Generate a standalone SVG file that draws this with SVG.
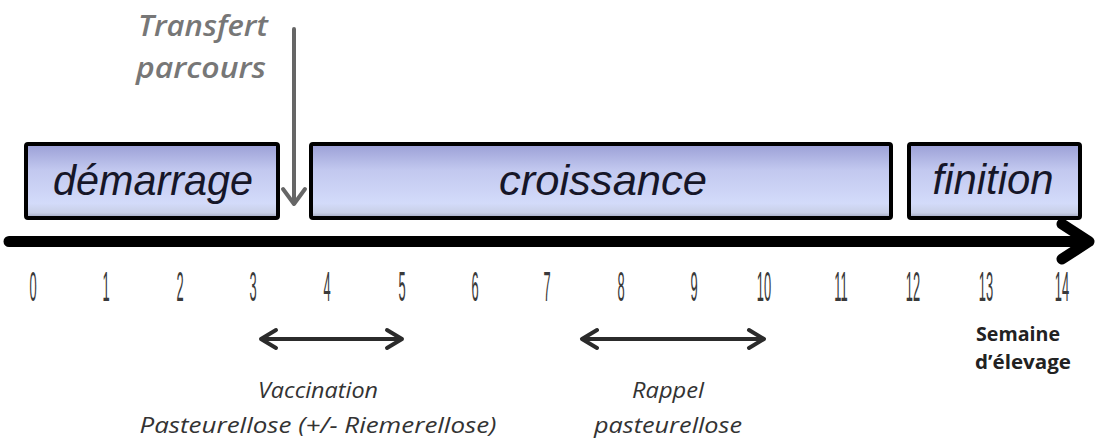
<svg xmlns="http://www.w3.org/2000/svg" width="1095" height="446" viewBox="0 0 1095 446">
<defs>
<linearGradient id="boxfill" x1="0" y1="0" x2="0" y2="1">
<stop offset="0" stop-color="#9b9fd6"/>
<stop offset="0.35" stop-color="#c2c8ef"/>
<stop offset="0.8" stop-color="#d3dbfa"/>
<stop offset="0.93" stop-color="#c8cfe6"/>
<stop offset="1" stop-color="#9aa0b8"/>
</linearGradient>
<style>
.box{fill:url(#boxfill);stroke:#000;stroke-width:4}
.phase{font-family:"Liberation Sans",Arial,sans-serif;font-style:italic;font-size:42px;fill:#161628;text-anchor:middle}
.num{font-family:"Liberation Sans",Arial,sans-serif;font-size:43px;fill:#3a3a3a;text-anchor:middle}
.lab{font-family:"Open Sans",sans-serif;font-style:italic;font-size:21px;fill:#333;text-anchor:middle}
.tr{font-family:"Open Sans",sans-serif;font-style:italic;font-weight:600;font-size:28px;fill:#777;text-anchor:end}
.sem{font-family:"Open Sans",sans-serif;font-weight:bold;font-size:19px;fill:#222;text-anchor:start}
.axis{fill:none;stroke:#000;stroke-width:11;stroke-linecap:round;stroke-linejoin:round}
.dbl{fill:none;stroke:#2b2b2b;stroke-width:4;stroke-linecap:round;stroke-linejoin:round}
.tarrow{fill:none;stroke:#666;stroke-width:4;stroke-linecap:round;stroke-linejoin:round}
</style>
</defs>
<rect width="1095" height="446" fill="#fff"/>

<g id="demarrage">
<rect class="box" x="26" y="144" width="252" height="74" rx="2"/>
<text class="phase" x="153" y="195" textLength="200" lengthAdjust="spacingAndGlyphs">démarrage</text>
</g>
<g id="croissance">
<rect class="box" x="311" y="144" width="580" height="74" rx="2"/>
<text class="phase" x="603" y="195" textLength="208" lengthAdjust="spacingAndGlyphs">croissance</text>
</g>
<g id="finition">
<rect class="box" x="909" y="144" width="171" height="74" rx="2"/>
<text class="phase" x="993" y="194" textLength="121" lengthAdjust="spacingAndGlyphs">finition</text>
</g>

<g id="transfert">
<text class="tr" x="268" y="36" textLength="130" lengthAdjust="spacingAndGlyphs">Transfert</text>
<text class="tr" x="266" y="78" textLength="130" lengthAdjust="spacingAndGlyphs">parcours</text>
</g>

<g id="connectors">
<path class="tarrow" d="M294,29 V203 M283,189 L294,204 L305,189"/>
<path class="axis" d="M9,241.5 H1088 M1062,224 L1089,241.5 L1062,259"/>
<path class="dbl" d="M261,339 H402 M276,330 L261,339 L276,348 M387,330 L402,339 L387,348"/>
<path class="dbl" d="M582,339 H764 M597,330 L582,339 L597,348 M749,330 L764,339 L749,348"/>
</g>

<g id="ticks">
<text class="num" transform="translate(33,301) scale(0.3,1)">0</text>
<text class="num" transform="translate(106,301) scale(0.3,1)">1</text>
<text class="num" transform="translate(180,301) scale(0.3,1)">2</text>
<text class="num" transform="translate(253,301) scale(0.3,1)">3</text>
<text class="num" transform="translate(327,301) scale(0.3,1)">4</text>
<text class="num" transform="translate(402,301) scale(0.3,1)">5</text>
<text class="num" transform="translate(475,301) scale(0.3,1)">6</text>
<text class="num" transform="translate(547,301) scale(0.3,1)">7</text>
<text class="num" transform="translate(621,301) scale(0.3,1)">8</text>
<text class="num" transform="translate(694,301) scale(0.3,1)">9</text>
<text class="num" transform="translate(764,301) scale(0.3,1)">10</text>
<text class="num" transform="translate(841,301) scale(0.3,1)">11</text>
<text class="num" transform="translate(913,301) scale(0.3,1)">12</text>
<text class="num" transform="translate(986,301) scale(0.3,1)">13</text>
<text class="num" transform="translate(1062,301) scale(0.3,1)">14</text>
</g>

<g id="unit">
<text class="sem" x="976" y="341" textLength="84" lengthAdjust="spacingAndGlyphs">Semaine</text>
<text class="sem" x="975" y="369" textLength="96" lengthAdjust="spacingAndGlyphs">d’élevage</text>
</g>

<g id="vaccination">
<text class="lab" x="318" y="398" textLength="120" lengthAdjust="spacingAndGlyphs">Vaccination</text>
<text class="lab" x="318" y="433" textLength="357" lengthAdjust="spacingAndGlyphs">Pasteurellose (+/- Riemerellose)</text>
</g>
<g id="rappel">
<text class="lab" x="668" y="398" textLength="72" lengthAdjust="spacingAndGlyphs">Rappel</text>
<text class="lab" x="668" y="433" textLength="148" lengthAdjust="spacingAndGlyphs">pasteurellose</text>
</g>
</svg>
